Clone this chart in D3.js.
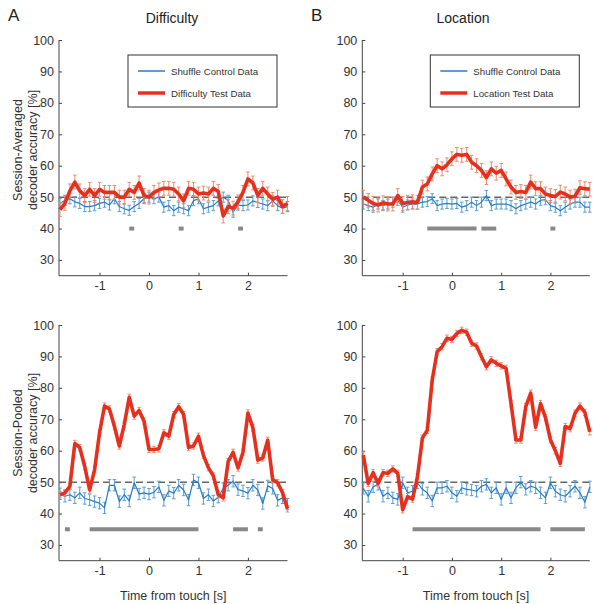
<!DOCTYPE html>
<html>
<head>
<meta charset="utf-8">
<script src="https://cdn.jsdelivr.net/npm/d3@7"></script>
<style>
  body { margin: 0; background: #fff; }
  svg { display: block; font-family: "Liberation Sans", Arial, sans-serif; }
</style>
</head>
<body>
<div id="chart"></div>
<script>
// time bins (s, relative to touch)
var time = [-1.8, -1.7, -1.6, -1.5, -1.4, -1.3, -1.2, -1.1, -1.0, -0.9, -0.8, -0.7, -0.6, -0.5, -0.4, -0.3,
  -0.2, -0.1, 0.0, 0.1, 0.2, 0.3, 0.4, 0.5, 0.6, 0.7, 0.8, 0.9, 1.0, 1.1, 1.2, 1.3, 1.4, 1.5, 1.6, 1.7,
  1.8, 1.9, 2.0, 2.1, 2.2, 2.3, 2.4, 2.5, 2.6, 2.7, 2.8];

// A, session-averaged
var diffAvgTest = [46, 48, 52, 54.8, 52, 50.5, 52.5, 50.5, 52.5, 51.5, 51.5, 51.5, 50, 50, 52.5, 51.5,
  54.5, 50.5, 50, 51.5, 52.3, 52.8, 52.8, 52.5, 51, 48.8, 52.8, 52.5, 51, 51.3, 51, 52.8, 51.8, 44, 47, 46.5,
  48.5, 51.5, 55.8, 54.5, 50.5, 52.8, 51, 49.3, 50, 47, 48];
var diffAvgShuffle = [48, 49, 49.5, 48.5, 48, 47, 47, 47.3, 48, 48.4, 47.5, 49.5, 47, 46.3, 45.8, 47,
  48, 49.5, 50, 49.5, 50, 46.8, 47.3, 45.7, 46.8, 46.3, 45.7, 48.9, 49.5, 46.3, 46.8, 47.3, 48.8, 50, 49, 45.2,
  47.5, 47.3, 47.5, 48.8, 48.3, 47.8, 47.3, 48.8, 47.3, 46.5, 47];

// B, session-averaged
var locAvgTest = [50, 49, 48, 47.5, 48.2, 47.8, 47.8, 50.5, 48, 48.3, 48.5, 48.3, 53.2, 54.2, 57.4, 60,
  59, 60.3, 62.2, 63.6, 63.3, 63.6, 61.1, 60, 58.5, 56.2, 59, 57.6, 58.5, 55.8, 53.2, 51.5, 51.8, 51.5, 54.8, 52.7,
  52.7, 51, 50.5, 50.2, 51.6, 51, 50, 50.3, 53, 52.7, 52.5];
var locAvgShuffle = [47.8, 47.3, 46.8, 47.8, 47.3, 47.8, 48.4, 49, 46.8, 47.5, 47.8, 47.8, 48.4, 48.6, 49.5, 47.3,
  47.8, 48, 47.8, 48, 46.8, 47.3, 48.4, 47.3, 48.4, 50.5, 47.3, 47.8, 47.8, 47.8, 47.3, 46.3, 47.3, 47.8, 48.4, 47.8,
  49, 49.2, 47.3, 46.8, 45.7, 46.8, 47.8, 48.4, 48.4, 46.8, 46.8];

// A, session-pooled
var diffPoolTest = [46, 46.6, 48.7, 62.3, 61, 55, 47.5, 54, 65.7, 74.2, 73.3, 67.8, 61.5, 68.4, 77, 71,
  72.8, 69.4, 60.4, 60.4, 60.6, 65.7, 64.6, 71.5, 74, 71.5, 61, 61.5, 64.6, 58.5, 54.6, 52, 46, 45, 56.5, 59.5,
  54.5, 59.5, 72, 67.3, 57, 57.7, 63.3, 50.8, 49.8, 46.6, 41.5];
var diffPoolShuffle = [46.3, 45.5, 46, 45, 46.6, 44.8, 44.4, 43.8, 43.3, 41.8, 49, 49, 43.8, 46, 44, 49.8,
  46.2, 46.6, 46.2, 46.8, 48.5, 44.2, 47.2, 46.5, 49, 47.5, 44.3, 50.7, 49.8, 44.8, 46, 44, 45.2, 48, 49, 50.3,
  47.6, 47.2, 46.5, 49, 47.5, 43.2, 48.8, 48, 44.2, 45, 43];

// B, session-pooled
var locPoolTest = [58.6, 49.6, 53, 49.6, 53, 52.8, 54.2, 52.8, 41.2, 45.4, 44.6, 51.7, 64, 66.5, 82.5, 91.5,
  93.1, 95.8, 95.4, 97.3, 98.3, 97.7, 94.2, 93.3, 89.9, 86.7, 88.9, 87.8, 87, 86.2, 75, 63.4, 63.4, 74, 78.3, 67.5,
  75, 70.5, 63.5, 60, 56, 67.7, 67, 71.9, 74.2, 72.2, 66];
var locPoolShuffle = [48, 45.5, 48.5, 49.3, 45.5, 46.6, 45, 44.5, 49.8, 46.6, 47.1, 49.8, 47.7, 46.6, 44, 48.2,
  48.2, 48.7, 46.6, 45.5, 48.2, 47.7, 47.5, 47.1, 48.7, 49.3, 46.6, 48.2, 44.5, 48.2, 45, 48.2, 50, 47.7, 48.7, 48.2,
  46.6, 45, 49.8, 47.1, 46, 45.5, 47.1, 48.7, 46.6, 43.6, 48.5];

// half-length of error bars per series
var errAvgTest = 2.2, errAvgShuffle = 1.6, errPoolTest = 1.0, errPoolShuffle = 1.8;

// significant time windows [start, end]
var sigDiffAvg = [[-0.4, -0.3], [0.6, 0.7], [1.8, 1.9]];
var sigLocAvg = [[-0.5, 0.5], [0.6, 0.9], [2.0, 2.1]];
var sigDiffPool = [[-1.7, -1.6], [-1.2, 1.0], [1.7, 2.0], [2.2, 2.3]];
var sigLocPool = [[-0.8, 1.8], [2.0, 2.7]];

var yTicks = [30, 40, 50, 60, 70, 80, 90, 100];
var xTicks = [-1, 0, 1, 2];
var chance = 50;

var red = "#e5301f", redErr = "#f08a6c";
var blue = "#2a7bbf", blueErr = "#5a9fd6";

var svg = d3.select("#chart").append("svg")
  .attr("width", 594)
  .attr("height", 604);

var panels = [
  {left: 59, top: 40, w: 228.5, test: diffAvgTest, shuffle: diffAvgShuffle, eT: errAvgTest, eS: errAvgShuffle,
    sig: sigDiffAvg, sigY: 40, legend: "Difficulty Test Data", xlab: false},
  {left: 362.3, top: 40, w: 227.5, test: locAvgTest, shuffle: locAvgShuffle, eT: errAvgTest, eS: errAvgShuffle,
    sig: sigLocAvg, sigY: 40, legend: "Location Test Data", xlab: false},
  {left: 59, top: 325, w: 228.5, test: diffPoolTest, shuffle: diffPoolShuffle, eT: errPoolTest, eS: errPoolShuffle,
    sig: sigDiffPool, sigY: 35, legend: null, xlab: true},
  {left: 362.3, top: 325, w: 227.5, test: locPoolTest, shuffle: locPoolShuffle, eT: errPoolTest, eS: errPoolShuffle,
    sig: sigLocPool, sigY: 35, legend: null, xlab: true}
];

var h = 235.7;

panels.forEach(function(p, i) {
  var g = svg.append("g").attr("transform", "translate(" + p.left + "," + p.top + ")");

  var x = d3.scaleLinear().domain([-1.82, 2.8]).range([0, p.w]);
  var y = d3.scaleLinear().domain([25, 100]).range([h, 0]);

  // axes (ticks point inward like matlab)
  var ax = g.append("g")
    .attr("transform", "translate(0," + h + ")")
    .call(d3.axisBottom(x).tickValues(xTicks).tickSize(-3).tickPadding(5).tickFormat(function(d) { return String(d); }));
  var ay = g.append("g")
    .call(d3.axisLeft(y).tickValues(yTicks).tickSize(-3).tickPadding(5));
  [ax, ay].forEach(function(a) {
    a.select(".domain").attr("stroke", "#444").attr("stroke-width", 1);
    a.selectAll(".tick line").attr("stroke", "#444");
    a.selectAll("text").attr("fill", "#333").style("font-size", "12.5px").style("font-family", "Liberation Sans, Arial, sans-serif");
  });
  ay.select(".domain").attr("d", "M0," + h + "V0");
  ax.select(".domain").attr("d", "M0,0H" + p.w);

  // chance level
  g.append("line")
    .attr("x1", 0).attr("x2", p.w)
    .attr("y1", y(chance)).attr("y2", y(chance))
    .attr("stroke", "#666").attr("stroke-width", 1.5)
    .attr("stroke-dasharray", "7,4");

  var line = d3.line().x(function(d) { return x(d[0]); }).y(function(d) { return y(d[1]); });

  function drawSeries(vals, err, col, errCol, lw) {
    var pts = time.map(function(t, k) { return [t, vals[k]]; });
    var eb = g.append("g").attr("stroke", errCol).attr("stroke-width", 1);
    pts.forEach(function(d) {
      var cx = x(d[0]);
      eb.append("line").attr("x1", cx).attr("x2", cx).attr("y1", y(d[1] - err)).attr("y2", y(d[1] + err));
      eb.append("line").attr("x1", cx - 1.8).attr("x2", cx + 1.8).attr("y1", y(d[1] - err)).attr("y2", y(d[1] - err));
      eb.append("line").attr("x1", cx - 1.8).attr("x2", cx + 1.8).attr("y1", y(d[1] + err)).attr("y2", y(d[1] + err));
    });
    g.append("path").datum(pts)
      .attr("d", line)
      .attr("fill", "none")
      .attr("stroke", col)
      .attr("stroke-width", lw)
      .attr("stroke-linejoin", "round");
  }

  drawSeries(p.shuffle, p.eS, blue, blueErr, 1.2);
  drawSeries(p.test, p.eT, red, redErr, 3.6);

  // significance bars
  g.selectAll(".sig").data(p.sig).enter().append("line")
    .attr("x1", function(d) { return x(d[0]); })
    .attr("x2", function(d) { return x(d[1]); })
    .attr("y1", y(p.sigY)).attr("y2", y(p.sigY))
    .attr("stroke", "#888").attr("stroke-width", 4);

  if (p.legend) {
    var lg = g.append("g").attr("transform", "translate(" + (p.w - 159.5) + ",15)");
    lg.append("rect").attr("width", 149).attr("height", 52)
      .attr("fill", "#fff").attr("stroke", "#333").attr("stroke-width", 1);
    lg.append("line").attr("x1", 10).attr("x2", 37).attr("y1", 16).attr("y2", 16)
      .attr("stroke", blue).attr("stroke-width", 1.5);
    lg.append("line").attr("x1", 10).attr("x2", 37).attr("y1", 38).attr("y2", 38)
      .attr("stroke", red).attr("stroke-width", 3.5);
    lg.append("text").attr("x", 43).attr("y", 19.5).attr("font-size", 9.7).attr("fill", "#333")
      .text("Shuffle Control Data");
    lg.append("text").attr("x", 43).attr("y", 41.5).attr("font-size", 9.7).attr("fill", "#333")
      .text(p.legend);
  }

  if (p.xlab) {
    g.append("text").attr("x", p.w / 2).attr("y", h + 39)
      .attr("text-anchor", "middle").attr("font-size", 12.5).attr("fill", "#333")
      .text("Time from touch [s]");
  }
});

// panel letters and titles
svg.append("text").attr("x", 8).attr("y", 21).attr("font-size", 17).attr("fill", "#222").text("A");
svg.append("text").attr("x", 311).attr("y", 21).attr("font-size", 17).attr("fill", "#222").text("B");
svg.append("text").attr("x", 172).attr("y", 23).attr("text-anchor", "middle").attr("font-size", 14).attr("fill", "#222").text("Difficulty");
svg.append("text").attr("x", 463).attr("y", 23).attr("text-anchor", "middle").attr("font-size", 14).attr("fill", "#222").text("Location");

// y labels
var ylabels = [
  {cy: 150, lines: ["Session-Averaged", "decoder accuracy [%]"]},
  {cy: 433, lines: ["Session-Pooled", "decoder accuracy [%]"]}
];
ylabels.forEach(function(l) {
  l.lines.forEach(function(s, k) {
    svg.append("text")
      .attr("transform", "translate(" + (18 + k * 15) + "," + l.cy + ") rotate(-90)")
      .attr("text-anchor", "middle").attr("dy", "0.35em")
      .attr("font-size", 12.5).attr("fill", "#333")
      .text(s);
  });
});
</script>
</body>
</html>
